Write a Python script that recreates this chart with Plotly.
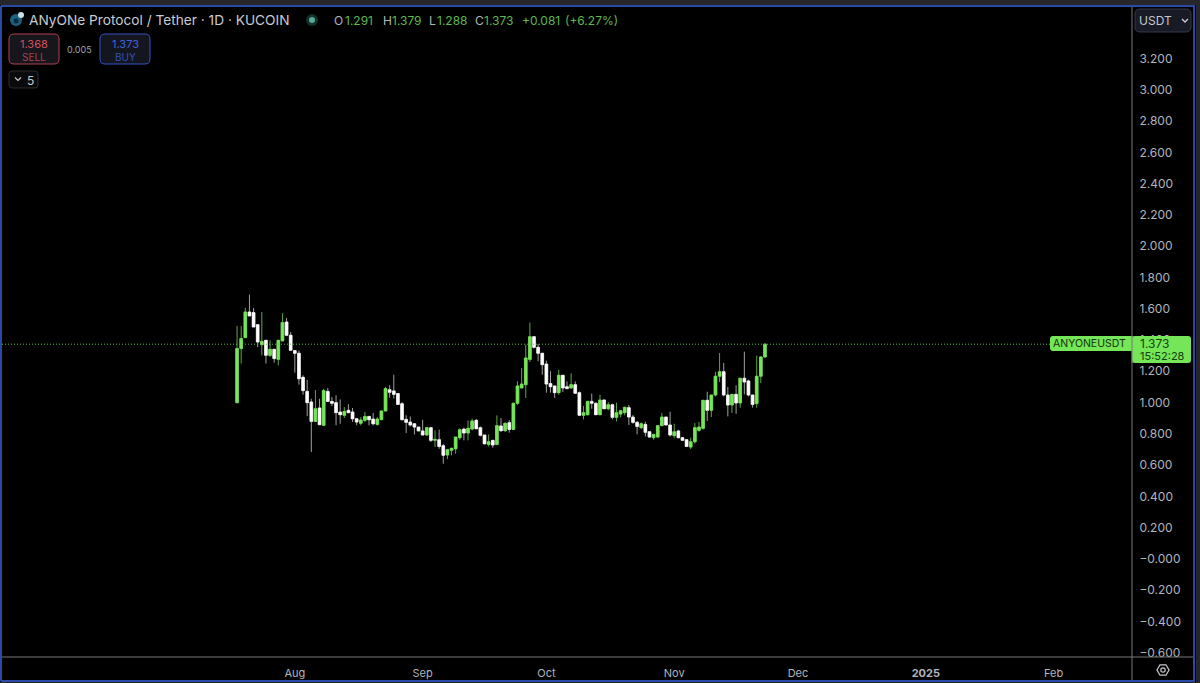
import pandas as pd
import plotly.graph_objects as go

open_ = [0.999,1.345,1.415,1.579,1.575,1.498,1.370,1.398,1.302,1.340,1.276,1.394,1.515,1.430,1.332,1.315,1.161,1.071,1.003,0.879,0.965,0.854,1.071,1.007,0.999,0.939,0.918,0.950,0.939,0.896,0.867,
 0.886,0.911,0.894,0.860,0.890,0.946,1.082,1.074,1.057,0.992,0.892,0.875,0.864,0.843,0.818,0.792,0.839,0.758,0.762,0.724,0.664,0.694,0.704,0.775,0.830,0.805,0.830,0.886,0.839,0.792,0.732,0.758,0.732,
 0.850,0.820,0.871,0.828,0.995,1.093,1.114,1.276,1.421,1.353,1.315,1.246,1.121,1.106,1.063,1.174,1.101,1.093,1.114,1.063,0.918,0.922,1.007,0.995,0.922,1.016,0.960,0.986,0.905,0.926,0.935,
 0.967,0.907,0.873,0.839,0.860,0.813,0.775,0.779,0.852,0.907,0.856,0.788,0.818,0.775,0.762,0.715,0.749,0.822,0.835,1.014,0.950,1.048,1.168,1.197,1.048,0.984,1.052,0.997,1.155,1.138,1.048,0.993,1.168,1.291]
high = [1.490,1.490,1.605,1.690,1.605,1.498,1.579,1.398,1.398,1.340,1.398,1.571,1.541,1.451,1.332,1.332,1.174,1.144,1.024,1.080,1.024,1.088,1.093,1.035,1.046,1.020,0.971,0.990,0.965,0.901,0.907,
 0.939,0.911,0.933,0.907,0.946,1.099,1.110,1.178,1.057,1.003,0.918,0.911,0.864,0.843,0.890,0.839,0.843,0.822,0.826,0.736,0.698,0.711,0.779,0.835,0.839,0.886,0.896,0.894,0.847,0.792,0.796,0.758,0.918,
 0.901,0.871,0.886,0.999,1.135,1.221,1.370,1.511,1.421,1.374,1.315,1.268,1.200,1.106,1.210,1.174,1.135,1.187,1.135,1.071,0.978,1.007,1.057,0.999,1.050,1.020,1.003,0.992,0.999,0.952,0.973,
 0.984,0.920,0.882,0.873,0.877,0.813,0.800,0.852,0.933,0.907,0.941,0.864,0.826,0.779,0.762,0.775,0.869,0.875,1.014,1.069,1.048,1.197,1.317,1.253,1.099,1.052,1.110,1.155,1.325,1.146,1.048,1.300,1.296,1.379]
low = [0.999,1.249,1.415,1.554,1.483,1.355,1.302,1.249,1.291,1.255,1.238,1.394,1.430,1.334,1.191,1.114,1.050,0.913,0.683,0.879,0.858,0.854,1.003,0.977,0.854,0.864,0.901,0.935,0.875,0.854,0.854,
 0.875,0.854,0.854,0.852,0.890,0.946,1.031,1.025,0.988,0.886,0.805,0.847,0.796,0.818,0.792,0.788,0.747,0.715,0.704,0.608,0.638,0.662,0.672,0.762,0.758,0.758,0.822,0.832,0.783,0.732,0.719,0.711,0.726,
 0.811,0.811,0.807,0.828,0.986,1.093,1.029,1.259,1.345,1.264,1.178,1.063,1.063,1.029,1.050,1.067,1.084,1.089,1.054,0.914,0.892,0.918,0.960,0.922,0.918,0.960,0.950,0.892,0.879,0.905,0.918,
 0.856,0.864,0.796,0.830,0.783,0.775,0.762,0.775,0.852,0.856,0.783,0.771,0.771,0.753,0.715,0.702,0.736,0.813,0.826,0.882,0.907,1.039,1.131,1.039,0.911,0.933,0.928,0.967,1.052,1.039,0.967,0.967,1.125,1.288]
close = [1.345,1.409,1.579,1.554,1.483,1.387,1.391,1.302,1.340,1.281,1.398,1.511,1.430,1.334,1.315,1.152,1.076,0.999,0.879,0.960,0.858,1.076,1.007,0.995,0.935,0.922,0.943,0.935,0.896,0.875,0.888,
 0.911,0.890,0.864,0.894,0.946,1.089,1.065,1.052,0.988,0.890,0.873,0.856,0.843,0.818,0.792,0.839,0.758,0.764,0.719,0.662,0.698,0.707,0.779,0.826,0.805,0.835,0.882,0.832,0.790,0.736,0.749,0.728,0.852,
 0.820,0.867,0.828,0.995,1.106,1.118,1.285,1.421,1.353,1.315,1.242,1.118,1.101,1.063,1.174,1.093,1.089,1.114,1.059,0.918,0.935,1.007,0.995,0.922,1.016,0.960,0.986,0.905,0.935,0.948,0.969,
 0.907,0.873,0.847,0.864,0.809,0.779,0.796,0.852,0.907,0.856,0.792,0.813,0.775,0.758,0.719,0.749,0.839,0.843,1.014,0.950,1.048,1.168,1.197,1.048,0.984,1.052,0.997,1.155,1.131,1.048,0.988,1.168,1.291,1.373]

first_day = "2024-07-18"
y_ticks = [-0.6,-0.4,-0.2,0.0,0.2,0.4,0.6,0.8,1.0,1.2,1.4,1.6,1.8,2.0,2.2,2.4,2.6,2.8,3.0,3.2]
y_labels = ["−0.600","−0.400","−0.200","−0.000","0.200","0.400","0.600","0.800","1.000","1.200","1.400","1.600","1.800","2.000","2.200","2.400","2.600","2.800","3.000","3.200"]
x_ticks = ["2024-08-01","2024-09-01","2024-10-01","2024-11-01","2024-12-01","2025-01-01","2025-02-01"]
x_labels = ["Aug","Sep","Oct","Nov","Dec","<b>2025</b>","Feb"]
last_price = 1.373

W, H = 1200, 683
L, R, T, B = 2, 68, 7, 26
PW, PH = W - L - R, H - T - B
FONT = "Inter"
GREEN, GREEN_WICK, WHITE, WHITE_WICK = "#78e35c", "#5aa843", "#ffffff", "#a0a0a0"
GREY = "#b2b5be"

def px(x): return (x - L) / PW
def py(y): return 1 - (y - T) / PH

days = pd.date_range(first_day, periods=len(close))
body_high = [max(o, c) for o, c in zip(open_, close)]
body_low = [min(o, c) for o, c in zip(open_, close)]

fig = go.Figure()
fig.add_trace(go.Candlestick(x=days, open=open_, high=high, low=low, close=close, name="wicks",
    increasing=dict(line=dict(color=GREEN_WICK, width=1), fillcolor=GREEN),
    decreasing=dict(line=dict(color=WHITE_WICK, width=1), fillcolor=WHITE),
    hoverinfo="skip", showlegend=False))
fig.add_trace(go.Candlestick(x=days, open=open_, high=body_high, low=body_low, close=close, name="bodies",
    increasing=dict(line=dict(color=GREEN, width=0.5), fillcolor=GREEN),
    decreasing=dict(line=dict(color=WHITE, width=0.5), fillcolor=WHITE),
    hoverinfo="skip", showlegend=False))

def rrect(x0, y0, x1, y1, r=4, fill="rgba(0,0,0,0)", line="rgba(0,0,0,0)", width=1):
    X0, X1, Y0, Y1 = px(x0), px(x1), py(y0), py(y1)
    rx, ry = r / PW, r / PH
    p = (f"M{X0+rx},{Y0} L{X1-rx},{Y0} Q{X1},{Y0} {X1},{Y0-ry} L{X1},{Y1+ry} Q{X1},{Y1} {X1-rx},{Y1} "
         f"L{X0+rx},{Y1} Q{X0},{Y1} {X0},{Y1+ry} L{X0},{Y0-ry} Q{X0},{Y0} {X0+rx},{Y0} Z")
    return dict(type="path", path=p, xref="paper", yref="paper", fillcolor=fill, line=dict(color=line, width=width), layer="above")

def rect(x0, y0, x1, y1, fill="rgba(0,0,0,0)", line="rgba(0,0,0,0)", width=0):
    return dict(type="rect", xref="paper", yref="paper", x0=px(x0), x1=px(x1), y0=py(y0), y1=py(y1),
                fillcolor=fill, line=dict(color=line, width=width), layer="above")

def seg(x0, y0, x1, y1, color, width=1):
    return dict(type="line", xref="paper", yref="paper", x0=px(x0), x1=px(x1), y0=py(y0), y1=py(y1),
                line=dict(color=color, width=width), layer="above")

def poly(points, color, width=1, close_it=False):
    p = "M" + " L".join(f"{px(x)},{py(y)}" for x, y in points) + (" Z" if close_it else "")
    return dict(type="path", path=p, xref="paper", yref="paper", line=dict(color=color, width=width), layer="above")

def circ(cx, cy, r, fill="rgba(0,0,0,0)", line="rgba(0,0,0,0)", width=0):
    return dict(type="circle", xref="paper", yref="paper", x0=px(cx-r), x1=px(cx+r), y0=py(cy+r), y1=py(cy-r),
                fillcolor=fill, line=dict(color=line, width=width), layer="above")

def text(x, y, s, size, color, anchor="left"):
    return dict(x=px(x), y=py(y), xref="paper", yref="paper", text=s, showarrow=False, xanchor=anchor, yanchor="middle",
                font=dict(family=FONT, size=size, color=color), borderpad=0, borderwidth=0)

strip, frame = "#26262b", "#2b4aa8"
shapes = [
    dict(type="line", xref="paper", yref="y", x0=0, x1=1, y0=last_price, y1=last_price,
         line=dict(color="#5fc045", width=1, dash="1px,2px"), layer="above"),
    seg(1132, 7, 1132, 681, "#77777c"),
    seg(2, 657, 1193, 657, "#77777c"),
    rect(0, 0, 1200, 5, strip), rect(1196, 0, 1200, 683, strip), rect(0, 682, 1200, 683, strip),
    seg(1, 6, 1195, 6, frame, 2), seg(1194, 6, 1194, 681, frame, 2), seg(1, 681, 1195, 681, frame, 2), seg(1, 6, 1, 681, frame, 2),
    # logo
    circ(16, 20, 6, "#1d5f7e"), circ(16, 21, 2.5, "#0b2c3b"), circ(21, 15, 3, "#c8dfe6"),
    # status
    circ(312, 20, 6, "#12302c"), circ(312, 20, 3, "#5aa897"),
    # buttons
    rrect(9, 34, 59, 64, 5, "#16161c", "#b0414f", 1),
    rrect(100, 34, 150, 64, 5, "#14161f", "#3452c4", 1),
    rrect(9, 71, 38, 88, 3, "#0a0a0c", "#2c2c30", 1),
    poly([(15, 77.5), (18, 80.5), (21, 77.5)], "#c8c8cc", 1.2),
    # USDT
    rrect(1135, 9, 1191, 32, 5, "#181b26", "#34384a", 1),
    poly([(1182, 19), (1185, 22), (1188, 19)], "#c8cad2", 1.4),
    # price tags
    rrect(1050, 336, 1134, 351, 3, "#74e657"),
    rrect(1132, 336, 1191, 363, 3, "#74e657"),
    seg(1132, 336, 1132, 363, "#77777c"),
    # settings icon
    poly([(1157, 670), (1160, 664.8), (1166, 664.8), (1169, 670), (1166, 675.2), (1160, 675.2)], "#c4c6cc", 1.3, True),
    circ(1163, 670, 2.2, line="#c4c6cc", width=1.2),
]

annotations = [
    text(29, 20, "ANyONe Protocol / Tether · 1D · KUCOIN", 13.7, "#c9cbd2"),
    text(334, 20, "O", 12, GREY), text(345, 20, "1.291", 12, "#5fb84a"),
    text(383, 20, "H", 12, GREY), text(392, 20, "1.379", 12, "#5fb84a"),
    text(429, 20, "L", 12, GREY), text(437, 20, "1.288", 12, "#5fb84a"),
    text(475, 20, "C", 12, GREY), text(484, 20, "1.373", 12, "#5fb84a"),
    text(522, 20, "+0.081", 12, "#5fb84a"), text(565, 20, "(+6.27%)", 12, "#5fb84a"),
    text(34, 44, "1.368", 11, "#d2505c", "center"), text(34, 57, "SELL", 10, "#a8424e", "center"),
    text(79, 49, "0.005", 9, "#a0a2a8", "center"),
    text(125, 44, "1.373", 11, "#3f62dc", "center"), text(125, 57, "BUY", 10, "#3450b8", "center"),
    text(30, 80, "5", 12, "#c8c8cc", "center"),
    text(1139, 21, "USDT", 12, "#c4c7d0"),
    text(1053, 343.5, "ANYONEUSDT", 10.5, "#14330c"),
    text(1140, 343.5, "1.373", 12, "#14400c"),
    text(1140, 356, "15:52:28", 11, "#14400c"),
]

fig.update_layout(
    width=W, height=H, margin=dict(l=L, r=R, t=T, b=B, pad=0),
    paper_bgcolor="#000000", plot_bgcolor="#000000", showlegend=False, hovermode=False,
    boxgap=0.2, boxgroupgap=0.2,
    shapes=shapes, annotations=annotations, font=dict(family=FONT, color=GREY),
    xaxis=dict(type="date", range=["2024-05-22", "2025-02-20"], rangeslider=dict(visible=False), showgrid=False, zeroline=False,
               tickmode="array", tickvals=x_ticks, ticktext=x_labels, tickfont=dict(size=11, color=GREY, family=FONT),
               ticks="outside", ticklen=6, tickcolor="rgba(0,0,0,0)", showline=False),
    yaxis=dict(side="right", range=[-0.628, 3.530], showgrid=False, zeroline=False, tickmode="array", tickvals=y_ticks,
               ticktext=y_labels, tickfont=dict(size=12, color=GREY, family=FONT), ticks="outside", ticklen=4,
               tickcolor="rgba(0,0,0,0)", showline=False),
)
fig.write_html("out.html", config=dict(displayModeBar=False),
               post_script="document.body.style.margin='0';document.documentElement.style.background='#000';")
